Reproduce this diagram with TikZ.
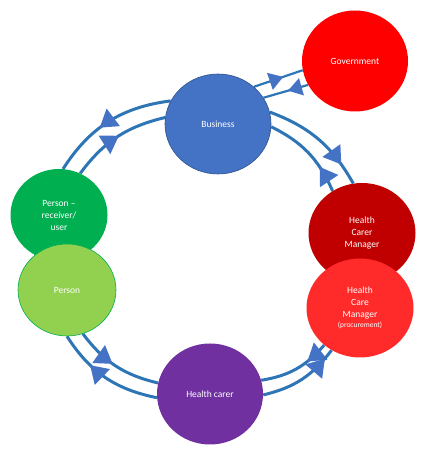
\documentclass[tikz,border=0pt]{standalone}
\usepackage{fontspec}
\setmainfont{Carlito}
\usepackage{tikz}
\usetikzlibrary{arrows.meta,shapes.geometric,decorations.markings,backgrounds}
\definecolor{govred}{HTML}{FF0000}
\definecolor{busblue}{HTML}{4472C4}
\definecolor{busline}{HTML}{2F528F}
\definecolor{mgrred}{HTML}{C00000}
\definecolor{procred}{HTML}{FF2B2B}
\definecolor{usergreen}{HTML}{00B050}
\definecolor{persgreen}{HTML}{92D050}
\definecolor{carerpurple}{HTML}{7030A0}
\definecolor{flowblue}{HTML}{2E75B6}

\begin{document}
\begin{tikzpicture}[x=1pt, y=1pt,
  bubble/.style={ellipse, minimum width=106pt, minimum height=100pt,
                 inner sep=0pt, align=center, text=white,
                 font=\fontsize{9.5}{12}\selectfont},
  flow/.style={draw=flowblue, line width=3pt},
  govflow/.style={draw=flowblue, line width=2.2pt},
  midtip/.style={postaction={decorate, decoration={markings,
      mark=at position #1 with {\arrow{Triangle[length=17pt, width=22pt, line width=0pt, color=busblue]}}}}},
  smalltip/.style={postaction={decorate, decoration={markings,
      mark=at position #1 with {\arrow{Triangle[length=14pt, width=18pt, line width=0pt, color=busblue]}}}}}]
  \useasboundingbox (0,0) rectangle (426,455);
  % Ring of actors
  \node[bubble, fill=govred, minimum height=101pt] (gov) at (355,394) {Government};
  \node[bubble, fill=busblue, draw=busline, line width=0.6pt] (busi) at (218,331) {Business};
  \node[bubble, fill=mgrred, minimum width=107pt] (hcm) at (362,222) {Health\\Carer\\Manager};
  \node[bubble, fill=procred, minimum width=107pt, minimum height=99pt] (hcmp) at (360,147)
    {Health\\Care\\Manager\\[-2pt]{\fontsize{7.5}{9}\selectfont(procurement)}};
  \node[bubble, fill=usergreen, minimum width=97pt, minimum height=92pt] (recv) at (59,240)
    {Person --\\receiver/\\user};
  \node[bubble, fill=persgreen, draw=usergreen, line width=0.6pt,
        minimum width=98pt, minimum height=92pt] (pers) at (67,165) {Person};
  \node[bubble, fill=carerpurple, minimum height=101pt] (carer) at (210,61) {Health carer};
  % Two-way flows (behind the bubbles)
  \begin{scope}[on background layer]
    % Business <-> Person (receiver)
    \draw[flow, midtip=.58] (busi.154) to[bend right=25] (recv.85);
    \draw[flow, midtip=.52] (recv.63) to[bend left=20] (busi.173);
    % Business <-> Government
    \draw[govflow, smalltip=.6] (busi.46) -- (gov.190);
    \draw[govflow, smalltip=.45] (gov.207) -- (busi.30);
    % Business <-> Health Carer Manager
    \draw[flow, midtip=.8] (busi.13) to[bend left=20] (hcm.100);
    \draw[flow, midtip=.3] (hcm.125) to[bend right=20] (busi.-3);
    % Person <-> Health carer
    \draw[flow, midtip=.46] (pers.290) to[bend right=20] (carer.168);
    \draw[flow, midtip=.67] (carer.184) to[bend left=23] (pers.270);
    % Health carer <-> Health Care Manager (procurement)
    \draw[flow, midtip=.32] (hcmp.226) to[bend left=20] (carer.15);
    \draw[flow, midtip=.87] (carer.359) to[bend right=20] (hcmp.236);
  \end{scope}
\end{tikzpicture}
\end{document}
